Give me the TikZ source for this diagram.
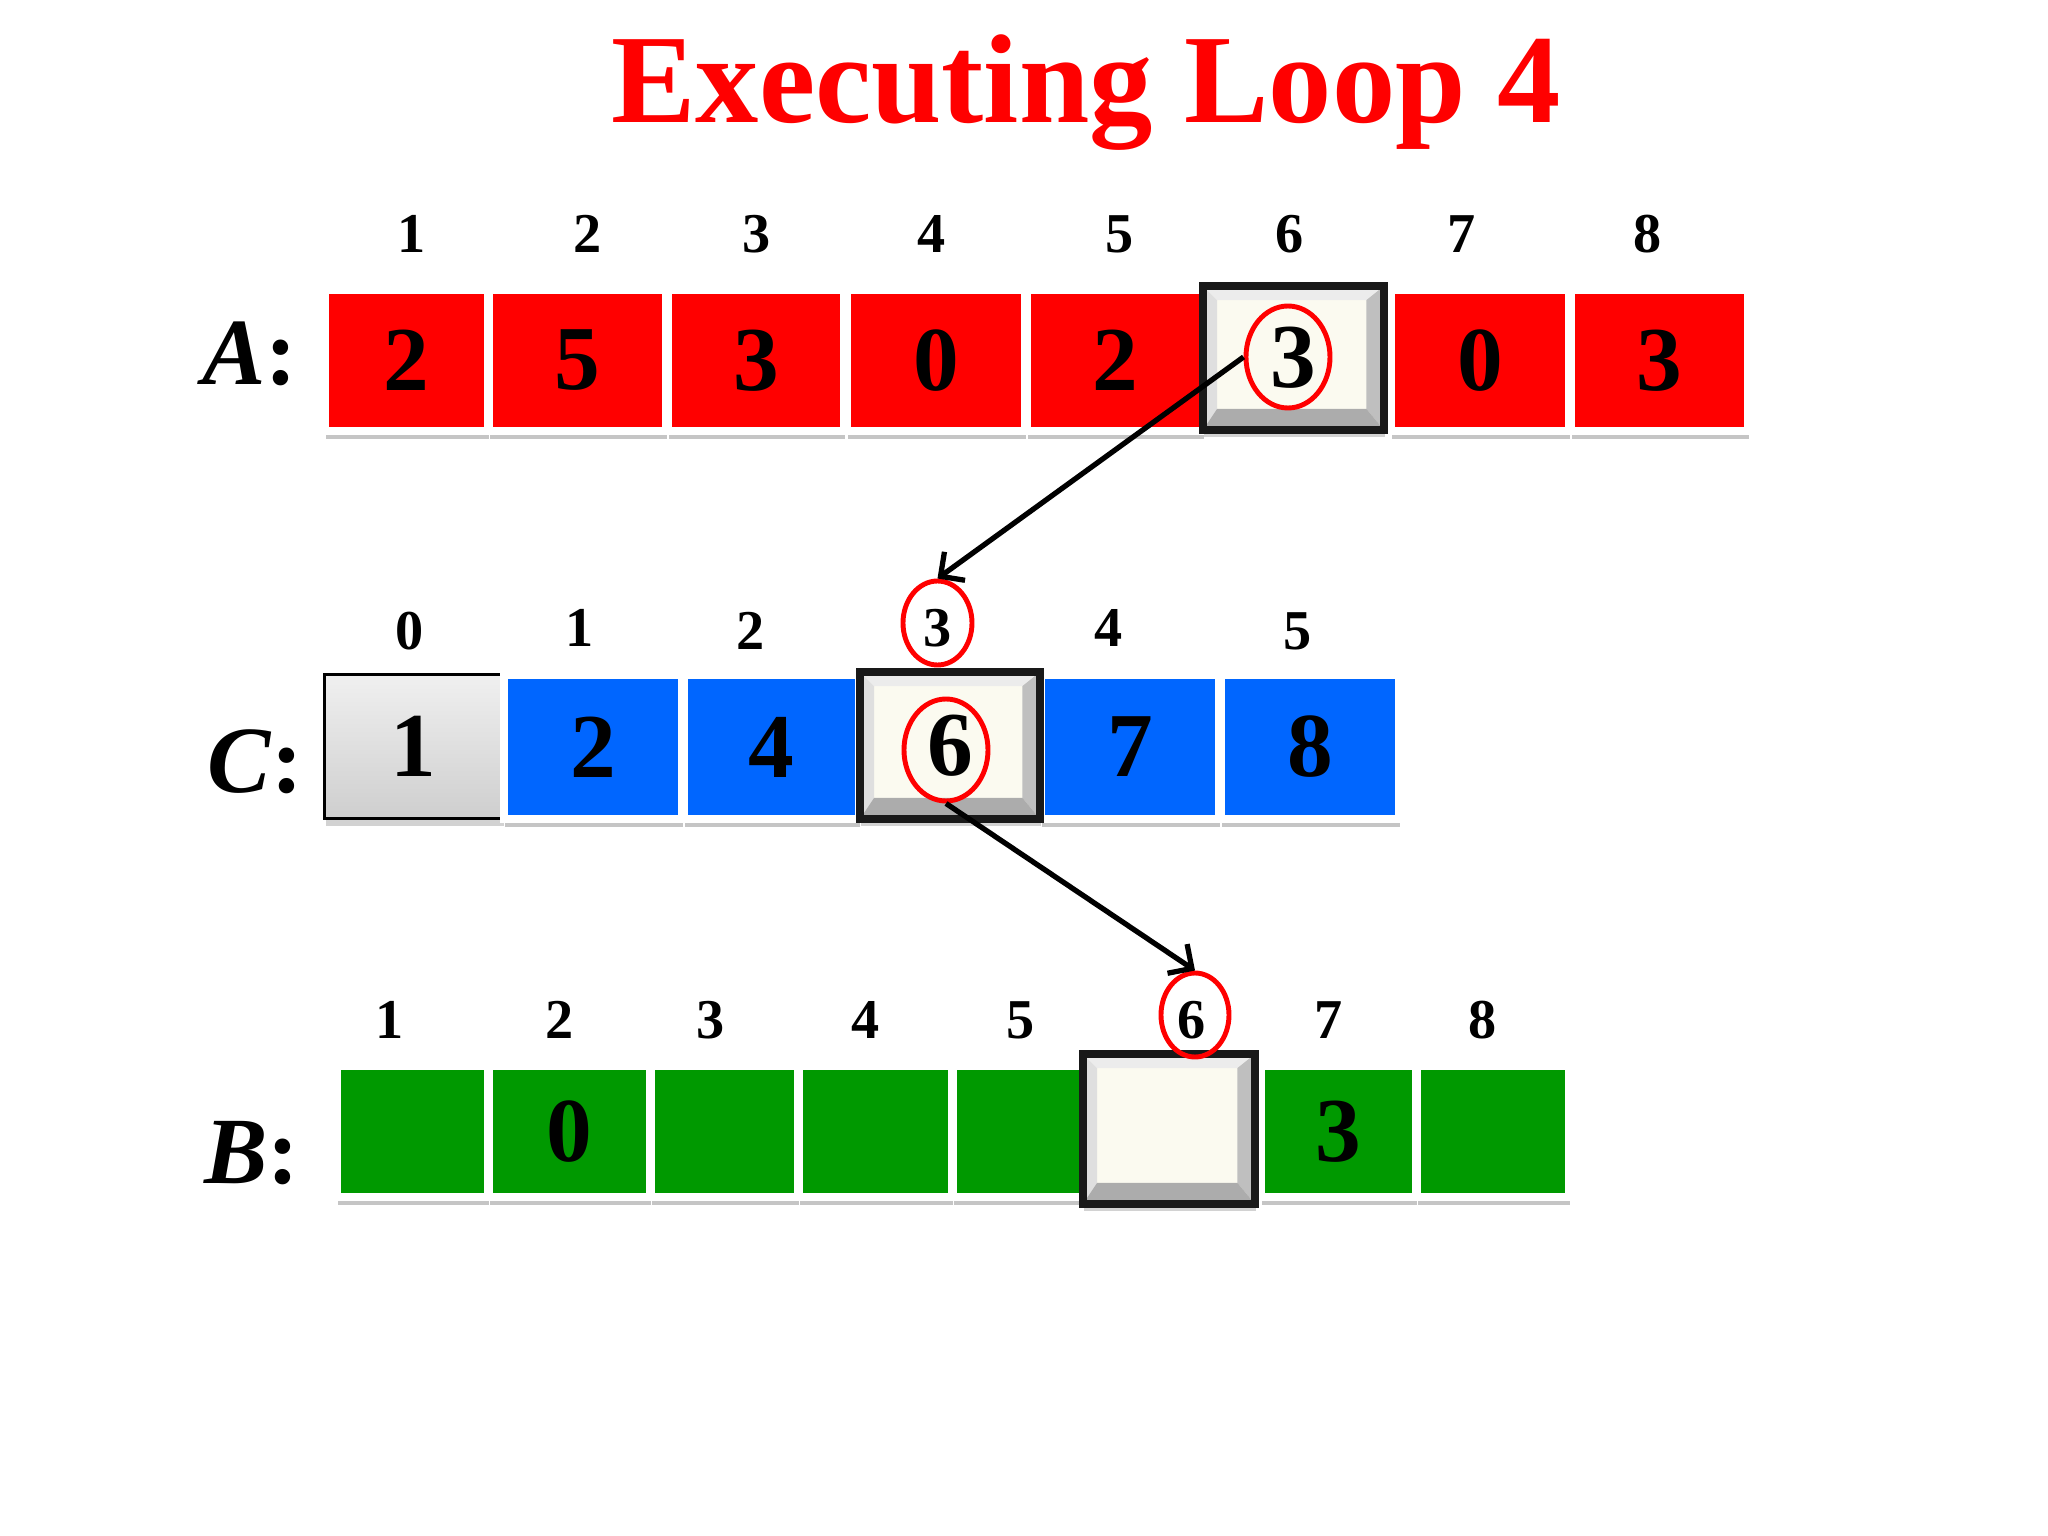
\documentclass[tikz,border=0pt]{standalone}
\usepackage{fontspec}
\setmainfont{Liberation Serif}
\usepackage{xcolor}
\usepackage{tikz}
\usetikzlibrary{shapes.geometric, arrows.meta, positioning, shadows, calc}

\definecolor{cellred}{RGB}{255,0,0}
\definecolor{cellblue}{RGB}{0,102,255}
\definecolor{cellgreen}{RGB}{0,153,0}
\definecolor{ivory}{RGB}{251,250,240}

\begin{document}
\begin{tikzpicture}[
            cell/.style={rectangle, draw=white, line width=2.3pt, inner sep=0pt,
                    font=\fontsize{26}{26}\selectfont\bfseries,
                    drop shadow={shadow xshift=.4pt, shadow yshift=-2.4pt, opacity=.45}},
            acell/.style={cell, fill=cellred, minimum height=1.41cm},
            ccell/.style={cell, fill=cellblue, minimum height=1.44cm},
            bcell/.style={cell, fill=cellgreen, minimum height=1.31cm},
            hot/.style={rectangle, draw=black!90, line width=2.3pt, fill=ivory, inner sep=0pt,
                    font=\fontsize{26}{26}\selectfont\bfseries,
                    drop shadow={shadow xshift=.4pt, shadow yshift=-2pt, opacity=.35},
                    path picture={
                        \path (path picture bounding box.south west) coordinate (sw)
                              (path picture bounding box.north east) coordinate (ne);
                        \fill[gray!25] (sw) -- ($(sw)+(4pt,5pt)$) -- ($(sw |- ne)+(4pt,-4pt)$) -- (sw |- ne) -- cycle;
                        \fill[gray!15] (sw |- ne) -- (ne) -- ($(ne)+(-5pt,-4pt)$) -- ($(sw |- ne)+(4pt,-4pt)$) -- cycle;
                        \fill[gray!50] (ne) -- (sw -| ne) -- ($(sw -| ne)+(-5pt,6pt)$) -- ($(ne)+(-5pt,-4pt)$) -- cycle;
                        \fill[gray!65] (sw) -- (sw -| ne) -- ($(sw -| ne)+(-5pt,6pt)$) -- ($(sw)+(4pt,6pt)$) -- cycle;
                    }},
            idx/.style={anchor=base, inner sep=0pt, font=\fontsize{16}{16}\selectfont\bfseries},
            arr/.style={anchor=base, inner sep=0pt, font=\fontsize{27}{27}\selectfont\bfseries},
            ring/.style={ellipse, draw=red, line width=1.4pt, inner sep=0pt},
            ptr/.style={draw, line width=1.5pt, -{Straight Barb[length=5pt, width=10pt]}}
            ]

            \path[fill=white] (0,0) rectangle (20.48,-15.36);

            %% ---- Title ----
            \node[anchor=base, text=cellred, font=\fontsize{36}{36}\selectfont\bfseries] (title) at (10.86,-1.23) {Executing Loop 4};

            %% ---- Array A ----
            \node[arr] (alab) at (2.50,-3.85) {\textit{A}:};
            \node[acell, minimum width=1.63cm] (a1) at (4.065,-3.605)  {2};
            \node[acell, minimum width=1.77cm] (a2) at (5.775,-3.605)  {5};
            \node[acell, minimum width=1.76cm] (a3) at (7.56,-3.605)   {3};
            \node[acell, minimum width=1.78cm] (a4) at (9.36,-3.605)   {0};
            \node[acell, minimum width=1.76cm] (a5) at (11.15,-3.605)  {2};
            \node[acell, minimum width=1.78cm] (a7) at (14.80,-3.605)  {0};
            \node[acell, minimum width=1.77cm] (a8) at (16.595,-3.605) {3};
            \node[hot, minimum width=1.81cm, minimum height=1.44cm] (a6) at (12.935,-3.58) {3};

            \node[idx] (ai1) at (4.12,-2.53)  {1};
            \node[idx] (ai2) at (5.88,-2.53)  {2};
            \node[idx] (ai3) at (7.57,-2.53)  {3};
            \node[idx] (ai4) at (9.32,-2.53)  {4};
            \node[idx] (ai5) at (11.20,-2.53) {5};
            \node[idx] (ai6) at (12.90,-2.53) {6};
            \node[idx] (ai7) at (14.62,-2.53) {7};
            \node[idx] (ai8) at (16.48,-2.53) {8};

            %% ---- Array C ----
            \node[arr] (clab) at (2.55,-7.93) {\textit{C}:};
            \node[rectangle, draw=black, line width=.8pt, inner sep=0pt, top color=gray!12, bottom color=gray!38,
                  minimum width=1.78cm, minimum height=1.44cm,
                  font=\fontsize{26}{26}\selectfont\bfseries,
                  drop shadow={shadow xshift=.4pt, shadow yshift=-2pt, opacity=.35}] (c0) at (4.135,-7.465) {1};
            \node[ccell, minimum width=1.78cm] (c1) at (5.93,-7.47)  {2};
            \node[ccell, minimum width=1.75cm] (c2) at (7.715,-7.47) {4};
            \node[ccell, minimum width=1.78cm] (c4) at (11.30,-7.47) {7};
            \node[ccell, minimum width=1.78cm] (c5) at (13.10,-7.47) {8};
            \node[hot, minimum width=1.80cm, minimum height=1.47cm] (c3) at (9.50,-7.455) {6};

            \node[idx] (ci0) at (4.10,-6.50)  {0};
            \node[idx] (ci1) at (5.80,-6.46)  {1};
            \node[idx] (ci2) at (7.51,-6.50)  {2};
            \node[idx] (ci3) at (9.38,-6.47)  {3};
            \node[idx] (ci4) at (11.09,-6.47) {4};
            \node[idx] (ci5) at (12.98,-6.50) {5};

            %% ---- Array B ----
            \node[arr] (blab) at (2.52,-11.83) {\textit{B}:};
            \node[bcell, minimum width=1.51cm] (b1) at (4.125,-11.315)  {};
            \node[bcell, minimum width=1.61cm] (b2) at (5.695,-11.315)  {0};
            \node[bcell, minimum width=1.47cm] (b3) at (7.245,-11.315)  {};
            \node[bcell, minimum width=1.53cm] (b4) at (8.755,-11.315)  {};
            \node[bcell, minimum width=1.30cm] (b5) at (10.18,-11.315)  {};
            \node[bcell, minimum width=1.55cm] (b7) at (13.385,-11.315) {3};
            \node[bcell, minimum width=1.52cm] (b8) at (14.93,-11.315)  {};
            \node[hot, minimum width=1.72cm, minimum height=1.50cm] (b6) at (11.69,-11.29) {};

            \node[idx] (bi1) at (3.90,-10.39)  {1};
            \node[idx] (bi2) at (5.60,-10.39)  {2};
            \node[idx] (bi3) at (7.11,-10.39)  {3};
            \node[idx] (bi4) at (8.66,-10.39)  {4};
            \node[idx] (bi5) at (10.21,-10.39) {5};
            \node[idx] (bi6) at (11.92,-10.39) {6};
            \node[idx] (bi7) at (13.29,-10.39) {7};
            \node[idx] (bi8) at (14.83,-10.39) {8};

            %% ---- Rings ----
            \node[ring, minimum width=.84cm, minimum height=1.02cm] (ra)  at (12.88,-3.57)  {};
            \node[ring, minimum width=.69cm, minimum height=.84cm]  (rci) at (9.375,-6.23)  {};
            \node[ring, minimum width=.84cm, minimum height=1.02cm] (rcv) at (9.46,-7.50)   {};
            \node[ring, minimum width=.68cm, minimum height=.84cm]  (rb)  at (11.95,-10.15) {};

            %% ---- Pointers ----
            % A[6] = 3 picks C[3]
            \draw[ptr] (ra.west) -- (rci.north);
            % C[3] = 6 gives the place in B
            \draw[ptr] (rcv.south) -- (rb.north);
\end{tikzpicture}
\end{document}
